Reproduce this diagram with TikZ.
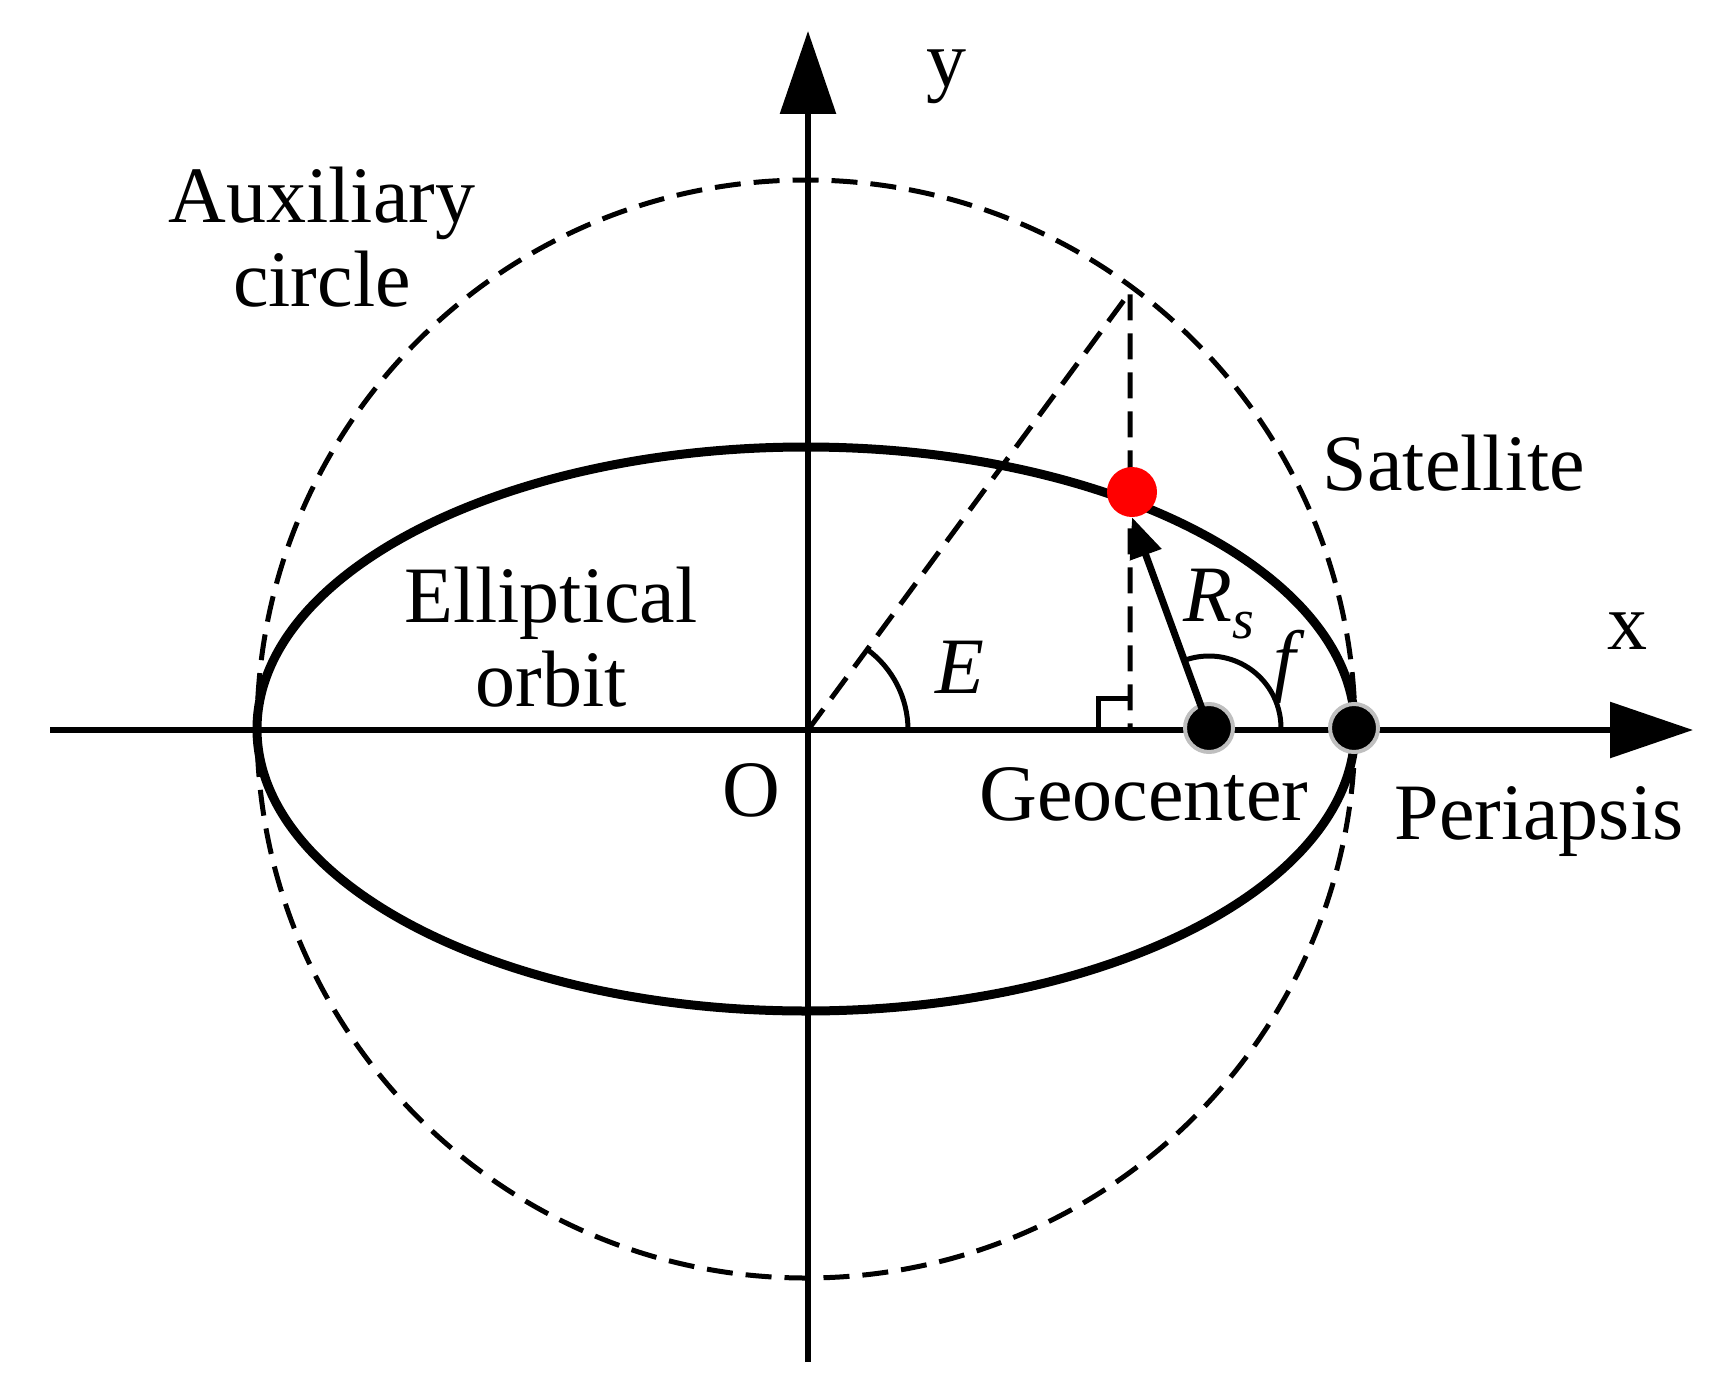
\documentclass[tikz,border=0pt]{standalone}
\usepackage{fontspec}
\setmainfont{Liberation Serif}
\usetikzlibrary{arrows.meta}
\begin{document}
\begin{tikzpicture}[x=1pt,y=-1pt,
  lbl/.style={font=\fontsize{80}{84}\selectfont,align=center,inner sep=0},
  dsh/.style={line width=5pt,dash pattern=on 26pt off 13pt},
  axis/.style={line width=6pt,-{Triangle[length=83pt,width=55pt]}},
  bdot/.style={circle,fill=black,draw=gray!50,line width=4pt,minimum size=48pt,inner sep=0}]
\useasboundingbox (0,0) rectangle (1721,1383);
\coordinate (C) at (806,729);
\draw[dsh] (C) circle (549);
\draw[line width=9pt] (C) ellipse [x radius=549,y radius=282];
\draw[axis] (50,730) coordinate (xs) -- (1693,730) coordinate (xe);
\draw[axis] (808,1362) coordinate (ys) -- (808,31) coordinate (ye);
\coordinate (O) at (808,730);
\coordinate (P) at (1130,292);
\coordinate (F) at (1130,730);
\draw[dsh] (O) -- (P) -- (F);
\draw[line width=5pt] (1098,730) |- (1130,698);
\draw[line width=5pt] ([shift={(0:100)}]O) arc[start angle=0,end angle=-53.7,radius=100];
\node[bdot] (G) at (1209,728) {};
\node[bdot] (Pe) at (1354,728) {};
\node[circle,fill=red,minimum size=50pt,inner sep=0] (S) at (1132,492) {};
\draw[line width=5pt] ([shift={(0:72)}]G.center) arc[start angle=0,end angle=-108,radius=72];
\draw[line width=7pt,-{Triangle[length=40pt,width=32pt]}] (G.center) -- (S.south);
\node[lbl] (ly) at (946,77) {y};
\node[lbl] (lx) at (1627,631) {x};
\node[lbl] (aux) at (322,237) {Auxiliary\\circle};
\node[lbl] (sat) at (1454,463) {Satellite};
\node[lbl] (ell) at (551,637) {Elliptical\\orbit};
\node[lbl] (lE) at (960,667) {\itshape E};
\node[lbl] (lR) at (1219,604) {\itshape R\textsubscript{s}};
\node[lbl] (lf) at (1285,667) {\itshape f};
\node[lbl] (lO) at (751,790) {O};
\node[lbl] (geo) at (1144,794) {Geocenter};
\node[lbl] (per) at (1539,822) {Periapsis};
\end{tikzpicture}
\end{document}
